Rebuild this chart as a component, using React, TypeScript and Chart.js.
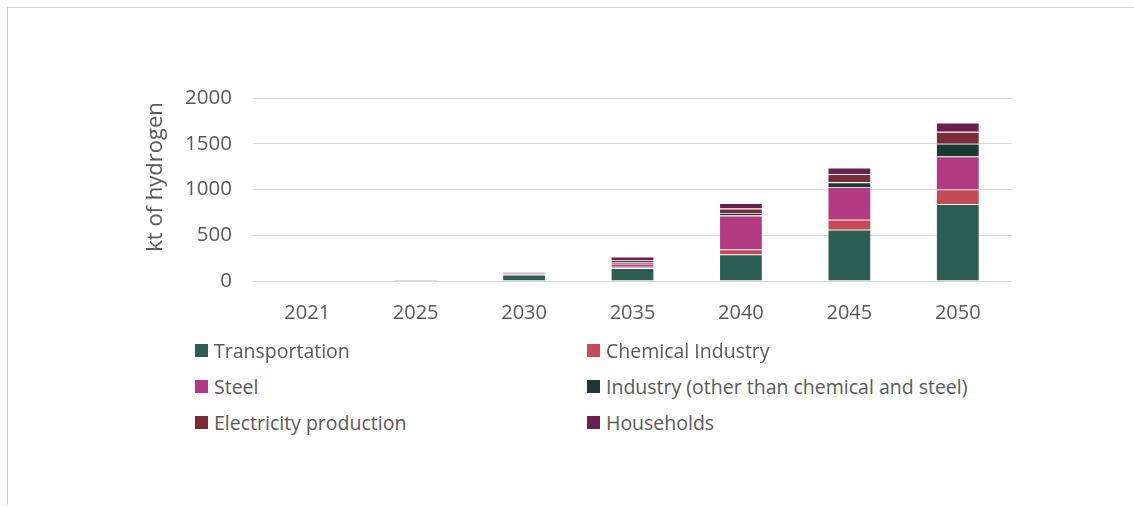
import React, { useEffect, useRef } from 'react';
import { Chart, registerables } from 'chart.js';

Chart.register(...registerables);

const FONT = '"Open Sans", "Noto Sans", sans-serif';
const TEXT = '#595959';

const years = ['2021', '2025', '2030', '2035', '2040', '2045', '2050'];
const transportation = [0, 1, 68, 141, 290, 560, 840];
const chemical = [0, 3, 8, 15, 55, 110, 160];
const steel = [0, 2, 10, 33, 370, 358, 360];
const industry = [0, 0, 4, 19, 28, 50, 140];
const electricity = [0, 0, 4, 21, 48, 90, 130];
const households = [0, 1, 5, 36, 60, 70, 100];

const seriesNames = [
  'Transportation',
  'Chemical Industry',
  'Steel',
  'Industry (other than chemical and steel)',
  'Electricity production',
  'Households',
];
const seriesColors = ['#2a5f52', '#c44a56', '#b23a82', '#1b3a33', '#7a2b38', '#6b1f4f'];
const seriesValues = [transportation, chemical, steel, industry, electricity, households];

const yTicks = [0, 500, 1000, 1500, 2000];
const yTitle = 'kt of hydrogen';

const yTitlePlugin = {
  id: 'yTitlePlugin',
  afterDraw(chart: any) {
    const { ctx, chartArea } = chart;
    ctx.save();
    ctx.translate(156, chartArea.top + 79);
    ctx.rotate(-Math.PI / 2);
    ctx.font = `22px ${FONT}`;
    ctx.fillStyle = TEXT;
    ctx.textAlign = 'center';
    ctx.textBaseline = 'middle';
    ctx.fillText(yTitle, 0, 0);
    ctx.restore();
  },
};

export default function App() {
  const ref = useRef<HTMLCanvasElement>(null);

  useEffect(() => {
    const chart = new Chart(ref.current as HTMLCanvasElement, {
      type: 'bar',
      data: {
        labels: years,
        datasets: seriesNames.map((name, i) => ({
          label: name,
          data: seriesValues[i],
          backgroundColor: seriesColors[i],
          borderColor: 'rgba(255,255,255,0.55)',
          borderWidth: 0.8,
          barPercentage: 0.4,
          categoryPercentage: 1,
        })),
      },
      options: {
        animation: false,
        responsive: true,
        maintainAspectRatio: false,
        layout: { padding: { left: 144, right: 122, top: 98, bottom: 0 } },
        plugins: {
          legend: { display: false },
          tooltip: { enabled: false },
        },
        scales: {
          x: {
            stacked: true,
            grid: { display: false, drawTicks: false },
            border: { display: false },
            ticks: { color: TEXT, font: { family: FONT, size: 20 }, padding: 20 },
            afterFit: (s: any) => {
              s.height = 59;
            },
          },
          y: {
            stacked: true,
            min: yTicks[0],
            max: yTicks[yTicks.length - 1],
            afterBuildTicks: (s: any) => {
              s.ticks = yTicks.map((v) => ({ value: v }));
            },
            grid: { color: '#d9d9d9', lineWidth: 1, drawTicks: false },
            border: { display: false },
            ticks: {
              color: TEXT,
              font: { family: FONT, size: 20.5 },
              padding: 21,
              callback: (v: any) => String(v),
            },
            afterFit: (s: any) => {
              s.width = 109;
            },
          },
        },
      },
      plugins: [yTitlePlugin],
    });
    return () => chart.destroy();
  }, []);

  const cols = [195, 587];
  const rows = [351, 387, 423];

  return (
    <div
      style={{
        position: 'absolute',
        left: 0,
        top: 0,
        width: 1134,
        height: 507,
        background: '#fff',
        overflow: 'hidden',
        fontFamily: FONT,
      }}
    >
      <div
        style={{
          position: 'absolute',
          left: 7,
          top: 7,
          right: -2,
          bottom: 2,
          borderTop: '1px solid #d2d2d2',
          borderLeft: '1px solid #d2d2d2',
        }}
      />
      <div style={{ position: 'absolute', left: 0, top: 0, width: 1134, height: 340 }}>
        <canvas ref={ref} />
      </div>
      {seriesNames.map((name, i) => (
        <div
          key={name}
          style={{
            position: 'absolute',
            left: cols[i % 2],
            top: rows[Math.floor(i / 2)] - 13,
            height: 24,
            display: 'flex',
            alignItems: 'center',
            whiteSpace: 'nowrap',
            color: TEXT,
            fontSize: 19.5,
          }}
        >
          <span
            style={{
              display: 'inline-block',
              width: 13,
              height: 13,
              background: seriesColors[i],
              marginRight: 6,
            }}
          />
          <span>{name}</span>
        </div>
      ))}
    </div>
  );
}
